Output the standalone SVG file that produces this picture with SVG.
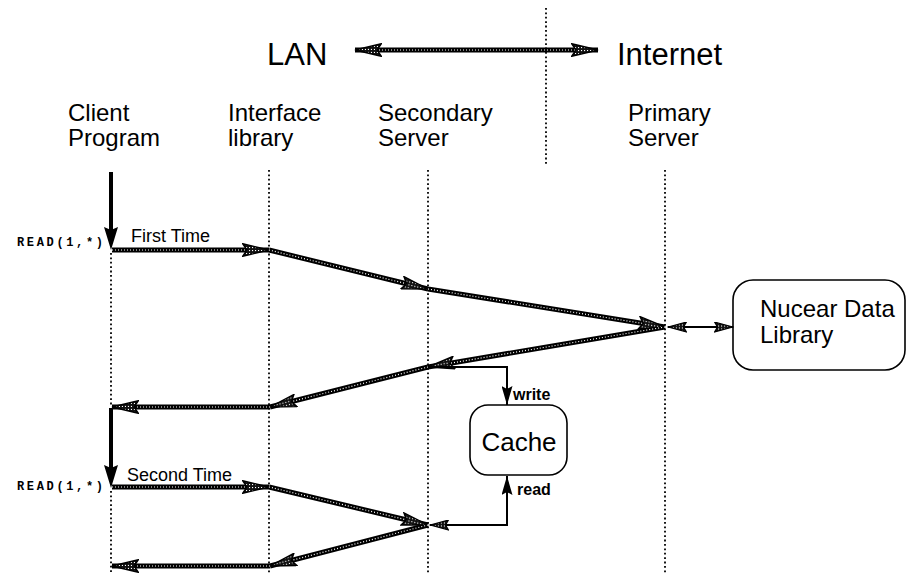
<svg xmlns="http://www.w3.org/2000/svg" width="913" height="574" viewBox="0 0 913 574">
<style>
.t{font-family:"Liberation Sans",Arial,Helvetica,sans-serif;fill:#000}
.col{font-size:24px}
.big{font-size:31px}
.lab{font-size:18px}
.sm{font-size:16px;font-weight:bold}
.mono{font-family:"Liberation Mono","Courier New",monospace;font-size:12px;font-weight:bold;fill:#000}
.dot{stroke:#000;stroke-width:1.8;stroke-dasharray:1.8 2.6;fill:none}
.h{stroke:#000;stroke-width:5;fill:none}
.hi{stroke:#fff;stroke-width:1.2;stroke-dasharray:1 2;fill:none}
.thin{stroke:#000;stroke-width:2;fill:none}
.bold{stroke:#000;stroke-width:4;fill:none}
.box{fill:#fff;stroke:#000;stroke-width:1.6}
</style>
<defs>
<pattern id="stip" width="3" height="3" patternUnits="userSpaceOnUse">
<rect width="3" height="3" fill="#111"/>
<rect x="1" y="1" width="1.1" height="1.1" fill="#fff"/>
</pattern>
<marker id="ha" markerUnits="userSpaceOnUse" viewBox="0 0 28 14" refX="27" refY="7" markerWidth="28" markerHeight="14" orient="auto-start-reverse">
<path d="M0.7,0.7 L27,7 L0.7,13.3 L5,7 Z" fill="url(#stip)" stroke="#000" stroke-width="1.4"/>
</marker>
<marker id="hs" markerUnits="userSpaceOnUse" viewBox="0 0 20 11" refX="19" refY="5.5" markerWidth="20" markerHeight="11" orient="auto-start-reverse">
<path d="M0.6,0.6 L19,5.5 L0.6,10.4 L3.5,5.5 Z" fill="url(#stip)" stroke="#000" stroke-width="1.2"/>
</marker>
<marker id="sb" markerUnits="userSpaceOnUse" viewBox="0 0 24 14" refX="23" refY="7" markerWidth="24" markerHeight="14" orient="auto-start-reverse">
<path d="M0,0 L23,7 L0,14 L3,7 Z" fill="#000"/>
</marker>
<marker id="ss" markerUnits="userSpaceOnUse" viewBox="0 0 20 11" refX="19" refY="5.5" markerWidth="20" markerHeight="11" orient="auto-start-reverse">
<path d="M0,0 L19,5.5 L0,11 L3,5.5 Z" fill="#000"/>
</marker>
</defs>

<g id="header">
<text class="t big" x="267" y="65">LAN</text>
<text class="t big" x="617" y="65">Internet</text>
<line class="dot" x1="546" y1="8" x2="546" y2="166"/>
</g>

<g id="client">
<text class="t col" x="68" y="121">Client</text>
<text class="t col" x="68" y="146">Program</text>
<line class="dot" x1="111" y1="253" x2="111" y2="405"/>
<line class="dot" x1="111" y1="491" x2="111" y2="574"/>
<text class="mono" x="17" y="246" textLength="86" lengthAdjust="spacing">READ(1,*)</text>
<text class="mono" x="17" y="490" textLength="86" lengthAdjust="spacing">READ(1,*)</text>
</g>

<g id="interface">
<text class="t col" x="228" y="121">Interface</text>
<text class="t col" x="228" y="146">library</text>
<line class="dot" x1="269" y1="170" x2="269" y2="574"/>
</g>

<g id="secondary">
<text class="t col" x="378" y="121">Secondary</text>
<text class="t col" x="378" y="146">Server</text>
<line class="dot" x1="428" y1="170" x2="428" y2="574"/>
</g>

<g id="primary">
<text class="t col" x="628" y="121">Primary</text>
<text class="t col" x="628" y="146">Server</text>
<line class="dot" x1="665" y1="170" x2="665" y2="574"/>
</g>

<g id="library">
<rect class="box" x="733" y="280" width="172" height="90" rx="20" ry="20"/>
<text class="t col" x="760" y="317">Nucear Data</text>
<text class="t col" x="760" y="343">Library</text>
</g>

<g id="cache">
<rect class="box" x="470" y="405" width="97" height="70" rx="18" ry="18"/>
<text class="t" font-size="26" x="519" y="451" text-anchor="middle">Cache</text>
</g>

<g id="connectors">
<path class="h" d="M355,50 L598,50"/>
<path class="hi" d="M355,50 L598,50" marker-start="url(#ha)" marker-end="url(#ha)"/>

<path class="bold" d="M111,172 L111,240"/>
<path d="M111,238 L111,250" fill="none" stroke="none" marker-end="url(#sb)"/>
<path class="bold" d="M111,408 L111,478"/>
<path d="M111,476 L111,488" fill="none" stroke="none" marker-end="url(#sb)"/>

<path class="h" d="M112,250 L269,250 M269,250 L428,289 M428,289 L665,327 M665,327 L428,367 M428,367 L270,407 M270,407 L112,407"/>
<path class="hi" d="M112,250 L269,250" marker-end="url(#ha)"/>
<path class="hi" d="M269,250 L428,289" marker-end="url(#ha)"/>
<path class="hi" d="M428,289 L665,327" marker-end="url(#ha)"/>
<path class="hi" d="M665,327 L428,367" marker-end="url(#ha)"/>
<path class="hi" d="M428,367 L270,407" marker-end="url(#ha)"/>
<path class="hi" d="M270,407 L112,407" marker-end="url(#ha)"/>

<path class="h" d="M112,487 L269,487 M269,487 L428,525 M428,525 L270,566 M270,566 L112,566"/>
<path class="hi" d="M112,487 L269,487" marker-end="url(#ha)"/>
<path class="hi" d="M269,487 L428,525" marker-end="url(#ha)"/>
<path class="hi" d="M428,525 L270,566" marker-end="url(#ha)"/>
<path class="hi" d="M270,566 L112,566" marker-end="url(#ha)"/>

<path class="thin" d="M668,327 L733,327" stroke-width="2.5" marker-start="url(#hs)" marker-end="url(#hs)"/>

<path class="thin" d="M428,367 L507,367 L507,405" marker-end="url(#ss)"/>
<path class="thin" d="M430,525 L507,525 L507,476" marker-start="url(#hs)" marker-end="url(#ss)"/>

<text class="t lab" x="131" y="242">First Time</text>
<text class="t lab" x="127" y="481">Second Time</text>
<text class="t sm" x="513" y="400">write</text>
<text class="t sm" x="517" y="495">read</text>
</g>
</svg>
